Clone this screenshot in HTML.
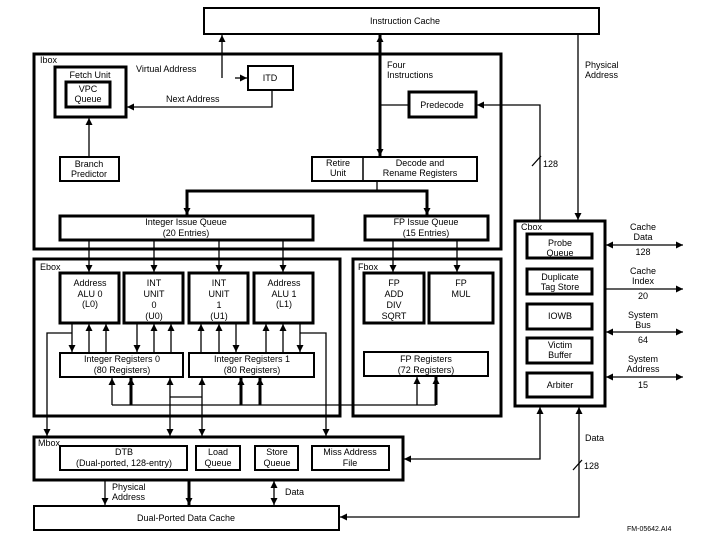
<!DOCTYPE html>
<html><head><meta charset="utf-8"><style>
html,body{margin:0;padding:0;background:#fff}
svg{display:block}
text{font-family:"Liberation Sans",sans-serif;font-size:9px;fill:#000}
</style></head><body>
<svg width="720" height="540" viewBox="0 0 720 540" xmlns="http://www.w3.org/2000/svg">
<defs>
<marker id="a" viewBox="0 0 10 10" refX="10" refY="5" markerWidth="7" markerHeight="7" markerUnits="userSpaceOnUse" orient="auto-start-reverse"><path d="M0,0 L10,5 L0,10 z" fill="#000"/></marker>
</defs>
<g fill="none" stroke="#000">
<rect x="204" y="8" width="395" height="26" stroke-width="2"/>
<rect x="34" y="54" width="467" height="195" stroke-width="3"/>
<rect x="34" y="259" width="306" height="157" stroke-width="3"/>
<rect x="353" y="259" width="148" height="157" stroke-width="3"/>
<rect x="515" y="221" width="90" height="185" stroke-width="3"/>
<rect x="34" y="437" width="369" height="43" stroke-width="3"/>
<rect x="34" y="506" width="305" height="24" stroke-width="2"/>
<rect x="55" y="67" width="71" height="50" stroke-width="3"/>
<rect x="66" y="82" width="44" height="25" stroke-width="3"/>
<rect x="248" y="66" width="45" height="24" stroke-width="2"/>
<rect x="60" y="157" width="59" height="24" stroke-width="2"/>
<rect x="409" y="92" width="67" height="25" stroke-width="3"/>
<rect x="312" y="157" width="165" height="24" stroke-width="2"/>
<line x1="363" y1="157" x2="363" y2="181" stroke-width="1.5"/>
<rect x="60" y="216" width="253" height="24" stroke-width="3"/>
<rect x="365" y="216" width="123" height="24" stroke-width="3"/>
<rect x="60" y="273" width="59" height="50" stroke-width="3"/>
<rect x="124" y="273" width="59" height="50" stroke-width="3"/>
<rect x="189" y="273" width="59" height="50" stroke-width="3"/>
<rect x="254" y="273" width="59" height="50" stroke-width="3"/>
<rect x="60" y="353" width="123" height="24" stroke-width="2"/>
<rect x="189" y="353" width="125" height="24" stroke-width="2"/>
<rect x="364" y="273" width="60" height="50" stroke-width="3"/>
<rect x="429" y="273" width="64" height="50" stroke-width="3"/>
<rect x="364" y="352" width="124" height="24" stroke-width="2"/>
<rect x="527" y="234" width="65" height="24" stroke-width="3"/>
<rect x="527" y="269" width="65" height="25" stroke-width="3"/>
<rect x="527" y="304" width="65" height="25" stroke-width="3"/>
<rect x="527" y="338" width="65" height="25" stroke-width="3"/>
<rect x="527" y="373" width="65" height="24" stroke-width="3"/>
<rect x="60" y="446" width="127" height="24" stroke-width="2"/>
<rect x="196" y="446" width="44" height="24" stroke-width="2"/>
<rect x="255" y="446" width="43" height="24" stroke-width="2"/>
<rect x="312" y="446" width="77" height="24" stroke-width="2"/>

<g stroke-width="1.3">
<line x1="222" y1="78" x2="222" y2="35" marker-end="url(#a)"/>
<line x1="235" y1="78" x2="247" y2="78" marker-end="url(#a)"/>
<polyline points="272,90 272,107 127,107" marker-end="url(#a)"/>
<line x1="89" y1="157" x2="89" y2="118" marker-end="url(#a)"/>
<line x1="380" y1="105" x2="409" y2="105"/>
<polyline points="540,221 540,105 477,105" marker-end="url(#a)"/>
<line x1="578" y1="34" x2="578" y2="220" marker-end="url(#a)"/>
<line x1="377" y1="181" x2="377" y2="191"/>
<line x1="89" y1="240" x2="89" y2="272" marker-end="url(#a)"/>
<line x1="154" y1="240" x2="154" y2="272" marker-end="url(#a)"/>
<line x1="219" y1="240" x2="219" y2="272" marker-end="url(#a)"/>
<line x1="283" y1="240" x2="283" y2="272" marker-end="url(#a)"/>
<line x1="393" y1="240" x2="393" y2="272" marker-end="url(#a)"/>
<line x1="457" y1="240" x2="457" y2="272" marker-end="url(#a)"/>
<line x1="72" y1="323" x2="72" y2="352" marker-end="url(#a)"/>
<line x1="89" y1="353" x2="89" y2="324" marker-end="url(#a)"/>
<line x1="106" y1="353" x2="106" y2="324" marker-end="url(#a)"/>
<line x1="137" y1="323" x2="137" y2="352" marker-end="url(#a)"/>
<line x1="154" y1="353" x2="154" y2="324" marker-end="url(#a)"/>
<line x1="171" y1="353" x2="171" y2="324" marker-end="url(#a)"/>
<line x1="201" y1="353" x2="201" y2="324" marker-end="url(#a)"/>
<line x1="219" y1="353" x2="219" y2="324" marker-end="url(#a)"/>
<line x1="236" y1="323" x2="236" y2="352" marker-end="url(#a)"/>
<line x1="266" y1="353" x2="266" y2="324" marker-end="url(#a)"/>
<line x1="283" y1="353" x2="283" y2="324" marker-end="url(#a)"/>
<line x1="300" y1="323" x2="300" y2="352" marker-end="url(#a)"/>
<polyline points="72,333 47,333 47,436" marker-end="url(#a)"/>
<polyline points="300,333 326,333 326,436" marker-end="url(#a)"/>
<polyline points="112,405 436,405"/>
<line x1="112" y1="405" x2="112" y2="378" marker-end="url(#a)"/>
<line x1="417" y1="405" x2="417" y2="377" marker-end="url(#a)"/>
<line x1="170" y1="397" x2="170" y2="436" marker-end="url(#a)"/>
<line x1="202" y1="397" x2="202" y2="436" marker-end="url(#a)"/>
<line x1="170" y1="397" x2="202" y2="397"/>
<line x1="170" y1="397" x2="170" y2="378" marker-end="url(#a)"/>
<line x1="202" y1="397" x2="202" y2="378" marker-end="url(#a)"/>
<line x1="606" y1="245" x2="683" y2="245" marker-start="url(#a)" marker-end="url(#a)"/>
<line x1="606" y1="289" x2="683" y2="289" marker-end="url(#a)"/>
<line x1="606" y1="332" x2="683" y2="332" marker-start="url(#a)" marker-end="url(#a)"/>
<line x1="606" y1="377" x2="683" y2="377" marker-start="url(#a)" marker-end="url(#a)"/>
<polyline points="404,459 540,459 540,407" marker-start="url(#a)" marker-end="url(#a)"/>
<polyline points="340,517 579,517 579,407" marker-start="url(#a)" marker-end="url(#a)"/>
<line x1="105" y1="481" x2="105" y2="505" marker-end="url(#a)"/>
<line x1="274" y1="481" x2="274" y2="505" marker-start="url(#a)" marker-end="url(#a)"/>
<line x1="573" y1="470" x2="582" y2="460"/>
<line x1="532" y1="166" x2="541" y2="156"/>
</g>
<g stroke-width="3">
<line x1="380" y1="35" x2="380" y2="156" marker-start="url(#a)" marker-end="url(#a)"/>
<polyline points="187,205 187,191 427,191 427,205"/>
<line x1="187" y1="200" x2="187" y2="215" marker-end="url(#a)"/>
<line x1="427" y1="200" x2="427" y2="215" marker-end="url(#a)"/>
<line x1="131" y1="405" x2="131" y2="378" marker-end="url(#a)"/>
<line x1="241" y1="405" x2="241" y2="378" marker-end="url(#a)"/>
<line x1="260" y1="405" x2="260" y2="378" marker-end="url(#a)"/>
<line x1="436" y1="405" x2="436" y2="377" marker-end="url(#a)"/>
<line x1="189" y1="481" x2="189" y2="505" marker-end="url(#a)"/>
</g>
</g>
<g text-anchor="middle">
<text x="405" y="24">Instruction Cache</text>
<text x="90" y="78">Fetch Unit</text>
<text x="88" y="92">VPC</text><text x="88" y="102">Queue</text>
<text x="270" y="81">ITD</text>
<text x="89" y="167">Branch</text><text x="89" y="177">Predictor</text>
<text x="442" y="108">Predecode</text>
<text x="338" y="166">Retire</text><text x="338" y="176">Unit</text>
<text x="420" y="166">Decode and</text><text x="420" y="176">Rename Registers</text>
<text x="186" y="225">Integer Issue Queue</text><text x="186" y="236">(20 Entries)</text>
<text x="426" y="225">FP Issue Queue</text><text x="426" y="236">(15 Entries)</text>
<text x="90" y="286">Address</text><text x="90" y="297">ALU 0</text><text x="90" y="307">(L0)</text>
<text x="154" y="286">INT</text><text x="154" y="297">UNIT</text><text x="154" y="308">0</text><text x="154" y="319">(U0)</text>
<text x="219" y="286">INT</text><text x="219" y="297">UNIT</text><text x="219" y="308">1</text><text x="219" y="319">(U1)</text>
<text x="284" y="286">Address</text><text x="284" y="297">ALU 1</text><text x="284" y="307">(L1)</text>
<text x="122" y="362">Integer Registers 0</text><text x="122" y="373">(80 Registers)</text>
<text x="252" y="362">Integer Registers 1</text><text x="252" y="373">(80 Registers)</text>
<text x="394" y="286">FP</text><text x="394" y="297">ADD</text><text x="394" y="308">DIV</text><text x="394" y="319">SQRT</text>
<text x="461" y="286">FP</text><text x="461" y="297">MUL</text>
<text x="426" y="362">FP Registers</text><text x="426" y="373">(72 Registers)</text>
<text x="560" y="246">Probe</text><text x="560" y="256">Queue</text>
<text x="560" y="280">Duplicate</text><text x="560" y="290">Tag Store</text>
<text x="560" y="319">IOWB</text>
<text x="560" y="348">Victim</text><text x="560" y="358">Buffer</text>
<text x="560" y="388">Arbiter</text>
<text x="643" y="230">Cache</text><text x="643" y="240">Data</text><text x="643" y="255">128</text>
<text x="643" y="274">Cache</text><text x="643" y="284">Index</text><text x="643" y="299">20</text>
<text x="643" y="318">System</text><text x="643" y="328">Bus</text><text x="643" y="343">64</text>
<text x="643" y="362">System</text><text x="643" y="372">Address</text><text x="643" y="388">15</text>
<text x="124" y="455">DTB</text><text x="124" y="466">(Dual-ported, 128-entry)</text>
<text x="218" y="455">Load</text><text x="218" y="466">Queue</text>
<text x="277" y="455">Store</text><text x="277" y="466">Queue</text>
<text x="350" y="455">Miss Address</text><text x="350" y="466">File</text>
<text x="186" y="521">Dual-Ported Data Cache</text>
</g>
<text x="40" y="63">Ibox</text>
<text x="136" y="72">Virtual Address</text>
<text x="166" y="102">Next Address</text>
<text x="387" y="68">Four</text><text x="387" y="78">Instructions</text>
<text x="585" y="68">Physical</text><text x="585" y="78">Address</text>
<text x="543" y="167">128</text>
<text x="40" y="270">Ebox</text>
<text x="358" y="270">Fbox</text>
<text x="521" y="230">Cbox</text>
<text x="38" y="446">Mbox</text>
<text x="112" y="490">Physical</text><text x="112" y="500">Address</text>
<text x="285" y="495">Data</text>
<text x="585" y="441">Data</text>
<text x="584" y="469">128</text>
<text x="627" y="531" style="font-size:7px">FM-05642.AI4</text>
</svg>
</body></html>
